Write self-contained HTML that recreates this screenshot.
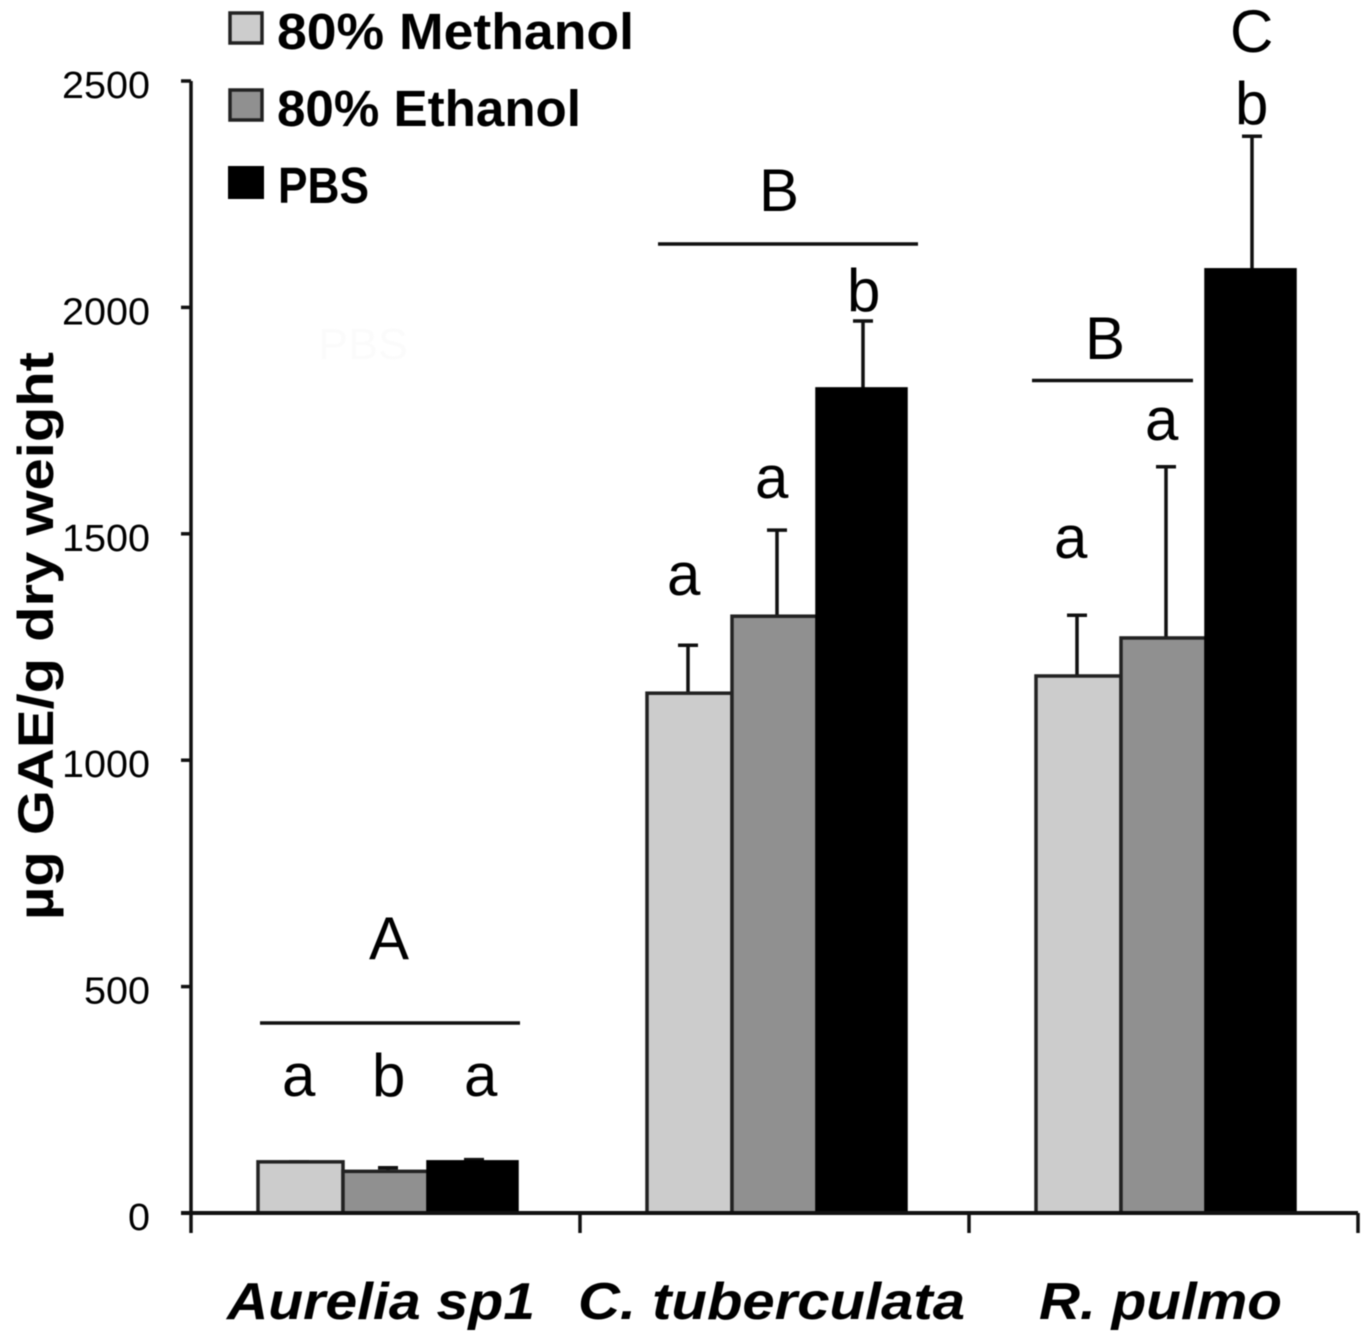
<!DOCTYPE html>
<html lang="en">
<head>
<meta charset="utf-8">
<title>Phenolic content by extraction solvent</title>
<style>
html,body{margin:0;padding:0;background:#fff;width:1368px;height:1335px;overflow:hidden}
svg{display:block;filter:blur(0.6px)}
text{font-family:"Liberation Sans",sans-serif;fill:#000}
.tick{font-size:38px}
.legend{font-size:51px;font-weight:bold}
.cat{font-size:52px;font-weight:bold;font-style:italic}
.sig{font-size:60px}
</style>
</head>
<body>
<svg id="chart" width="1368" height="1335" viewBox="0 0 1368 1335" xmlns="http://www.w3.org/2000/svg">
  <text x="318" y="359" font-size="44" style="fill:#fbfbfb" textLength="90" lengthAdjust="spacingAndGlyphs">PBS</text>

  <g id="bars"></g>
  <g id="axes"></g>

  <text transform="translate(53,920) rotate(-90)" font-size="50" font-weight="bold" textLength="568" lengthAdjust="spacingAndGlyphs">µg GAE/g dry weight</text>

  <g>
    <rect x="230" y="13" width="32" height="30" fill="#cccccc" stroke="#222" stroke-width="3.5"/>
    <text class="legend" x="277" y="49" textLength="357" lengthAdjust="spacingAndGlyphs">80% Methanol</text>
    <rect x="230" y="90" width="32" height="30" fill="#909090" stroke="#222" stroke-width="3.5"/>
    <text class="legend" x="277" y="126" textLength="304" lengthAdjust="spacingAndGlyphs">80% Ethanol</text>
    <rect x="228" y="166" width="36" height="33" fill="#000"/>
    <text class="legend" x="278" y="203" textLength="91" lengthAdjust="spacingAndGlyphs">PBS</text>
  </g>

  <g>
    <line x1="260" x2="520" y1="1023" y2="1023" stroke="#111" stroke-width="3.5"/>
    <line x1="658" x2="918" y1="244" y2="244" stroke="#111" stroke-width="3.5"/>
    <line x1="1032" x2="1193" y1="380.5" y2="380.5" stroke="#111" stroke-width="3.5"/>
    <text class="sig" x="369" y="959">A</text>
    <text class="sig" x="759" y="211">B</text>
    <text class="sig" x="1085" y="359">B</text>
    <text class="sig" x="1230" y="52">C</text>
    <text class="sig" x="282" y="1096">a</text>
    <text class="sig" x="372" y="1096">b</text>
    <text class="sig" x="464" y="1096">a</text>
    <text class="sig" x="667" y="595">a</text>
    <text class="sig" x="755" y="498">a</text>
    <text class="sig" x="847" y="311">b</text>
    <text class="sig" x="1054" y="558">a</text>
    <text class="sig" x="1145" y="440">a</text>
    <text class="sig" x="1235" y="124">b</text>
  </g>
</svg>
<script>
const categories = ['Aurelia sp1', 'C. tuberculata', 'R. pulmo'];
const seriesNames = ['methanol', 'ethanol', 'pbs'];
const seriesColors = ['#cccccc', '#909090', '#000000'];
const methanolValues = [113, 1148, 1186];
const ethanolValues = [92, 1318, 1270];
const pbsValues = [113, 1820, 2083];
const methanolErrors = [0, 106, 134];
const ethanolErrors = [8, 190, 378];
const pbsErrors = [5, 150, 295];
const yTicks = [0, 500, 1000, 1500, 2000, 2500];

const NS = 'http://www.w3.org/2000/svg';
const plotLeft = 191, plotRight = 1358, plotBottom = 1213, plotTop = 81, yMax = 2500;
const seriesValues = [methanolValues, ethanolValues, pbsValues];
const seriesErrors = [methanolErrors, ethanolErrors, pbsErrors];
const bandWidth = (plotRight - plotLeft) / categories.length;
const barOffsets = [67, 152, 237];
const barWidths = [85, 85, 89];
const errorOffsets = [108, 197, 283];
const catLabelX = [227, 578, 1039];
const catLabelLen = [308, 387, 243];

function yScale(v) { return plotBottom - (v / yMax) * (plotBottom - plotTop); }
function xBand(i) { return plotLeft + i * bandWidth; }
function make(tag, attrs, parent) {
  const el = document.createElementNS(NS, tag);
  for (const k in attrs) el.setAttribute(k, attrs[k]);
  parent.appendChild(el);
  return el;
}

const barsG = document.getElementById('bars');
const axesG = document.getElementById('axes');

seriesValues.forEach(function (vals, s) {
  vals.forEach(function (v, c) {
    const top = yScale(v);
    const errTop = yScale(v + seriesErrors[s][c]);
    const ex = xBand(c) + errorOffsets[s];
    const err = make('path', {
      d: 'M' + ex + ' ' + top + 'V' + errTop + 'M' + (ex - 10) + ' ' + errTop + 'H' + (ex + 10),
      fill: 'none', stroke: '#111', 'stroke-width': 3.5
    }, barsG);
    
    
    const bar = make('rect', {
      x: xBand(c) + barOffsets[s], y: top,
      width: barWidths[s], height: plotBottom - top,
      fill: seriesColors[s], stroke: s === 2 ? '#000' : '#222', 'stroke-width': 3.5
    }, barsG);
    
    
  });
});

const yLine = make('line', { x1: plotLeft, x2: plotLeft, y1: plotTop, y2: plotBottom, stroke: '#111', 'stroke-width': 3.5 }, axesG);


const xLine = make('line', { x1: plotLeft - 10, x2: plotRight, y1: plotBottom, y2: plotBottom, stroke: '#111', 'stroke-width': 4 }, axesG);



yTicks.forEach(function (t) {
  const y = yScale(t);
  const tick = make('line', { x1: plotLeft - 10, x2: plotLeft, y1: y, y2: y, stroke: '#111', 'stroke-width': 3.5 }, axesG);
  
  
  const label = make('text', {
    class: 'tick', x: 150, y: y + 17, 'text-anchor': 'end',
    textLength: String(t).length * 22, lengthAdjust: 'spacingAndGlyphs'
  }, axesG);
  label.textContent = String(t);
  
  
});

for (let i = 0; i <= categories.length; i++) {
  const x = xBand(i);
  const tick = make('line', { x1: x, x2: x, y1: plotBottom, y2: plotBottom + 20, stroke: '#111', 'stroke-width': 3.5 }, axesG);
  
  
}

categories.forEach(function (name, i) {
  const label = make('text', {
    class: 'cat', x: catLabelX[i], y: 1319,
    textLength: catLabelLen[i], lengthAdjust: 'spacingAndGlyphs'
  }, axesG);
  label.textContent = name;
  
  
});
</script>
</body>
</html>
